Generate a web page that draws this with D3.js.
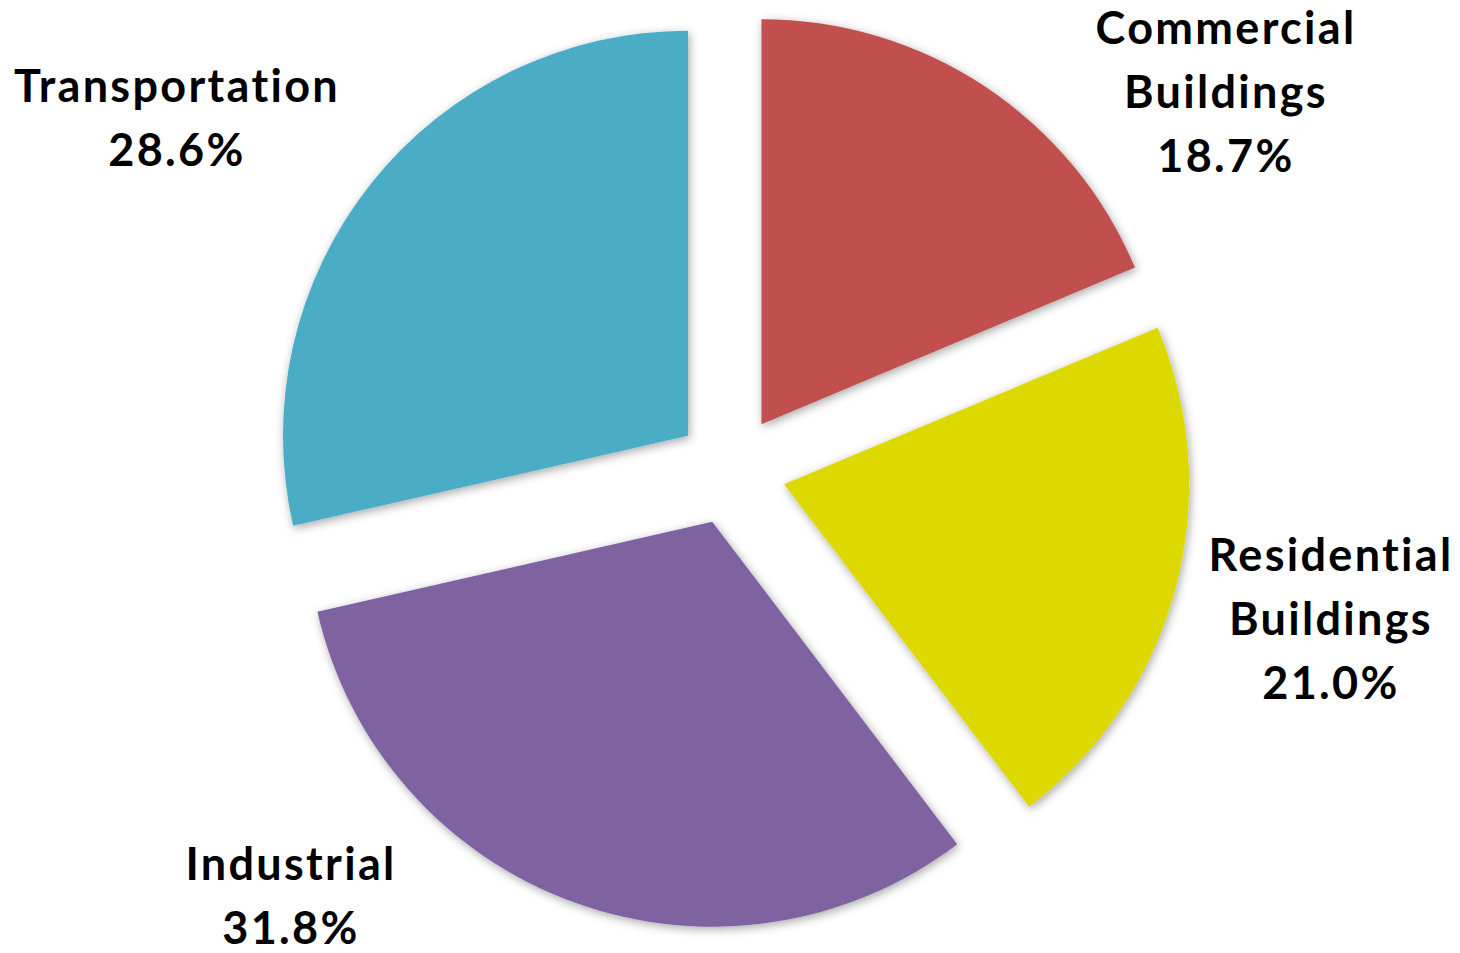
<!DOCTYPE html>
<html>
<head>
<meta charset="utf-8">
<script src="https://cdn.jsdelivr.net/npm/d3@7"></script>
<style>
  html, body { margin: 0; padding: 0; background: #fff; }
  svg { display: block; }
  .lbl { font-family: Lato, "Open Sans", sans-serif; font-weight: 700; fill: #000; }
</style>
</head>
<body>
<svg id="chart" width="1460" height="953"></svg>
<script>
// ---- data ----
const categories = ["Commercial Buildings", "Residential Buildings", "Industrial", "Transportation"];
const labelLines = [["Commercial", "Buildings"], ["Residential", "Buildings"], ["Industrial"], ["Transportation"]];
const values = [18.7, 21.0, 31.8, 28.6];
const colors = ["#C0504D", "#DDD800", "#7F63A1", "#4BACC6"];

// ---- layout ----
const W = 1460, H = 953;
const cx = 731, cy = 470, R = 405, explode = 55;
const labelPos = [[1226, 44], [1331, 571], [291, 880], [177, 102]];
const lineH = 64;
const fontSize = 45;
const spacing = 2.3;

const svg = d3.select("#chart");
const defs = svg.append("defs");
const f = defs.append("filter").attr("id", "shadow")
  .attr("x", "-20%").attr("y", "-20%").attr("width", "140%").attr("height", "140%");
f.append("feDropShadow").attr("dx", 1.5).attr("dy", 2.5).attr("stdDeviation", 5)
  .attr("flood-color", "#000").attr("flood-opacity", 0.35);

const pie = d3.pie().sort(null).value(d => d).startAngle(0).endAngle(2 * Math.PI);
const arcs = pie(values);
const arc = d3.arc().innerRadius(0).outerRadius(R);

const g = svg.append("g").attr("transform", `translate(${cx},${cy})`);
g.selectAll("path").data(arcs).join("path")
  .attr("d", arc)
  .attr("fill", (d, i) => colors[i])
  .attr("filter", "url(#shadow)")
  .attr("transform", d => {
    const a = (d.startAngle + d.endAngle) / 2;
    return `translate(${explode * Math.sin(a)},${-explode * Math.cos(a)})`;
  });

const fmt = d3.format(".1f");
arcs.forEach((d, i) => {
  const lines = labelLines[i].concat([fmt(values[i]) + "%"]);
  const t = svg.append("text").attr("class", "lbl")
    .attr("text-anchor", "middle")
    .attr("font-size", fontSize)
    .attr("letter-spacing", spacing)
    .attr("x", labelPos[i][0]).attr("y", labelPos[i][1]);
  lines.forEach((ln, k) => {
    t.append("tspan").attr("x", labelPos[i][0]).attr("dy", k === 0 ? 0 : lineH).text(ln);
  });
});
</script>
</body>
</html>
